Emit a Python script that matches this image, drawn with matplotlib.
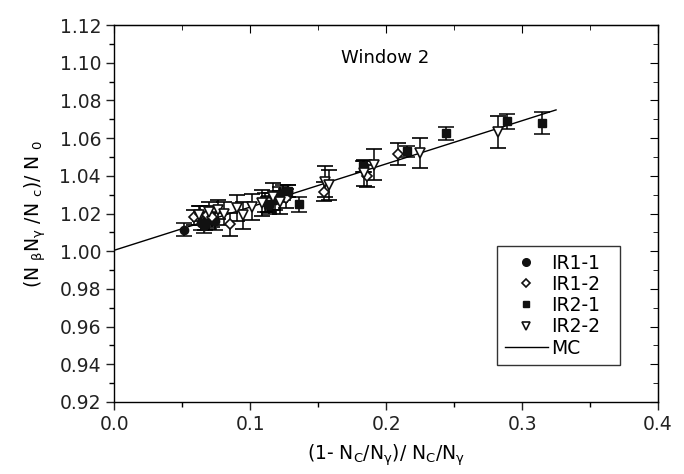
import matplotlib
matplotlib.use("Agg")
import matplotlib.pyplot as plt
from matplotlib.ticker import MultipleLocator, NullFormatter
from matplotlib.lines import Line2D

plt.rcParams['font.family'] = ['DejaVu Sans']
plt.rcParams['mathtext.fontset'] = 'dejavusans'

# ---- data ----
ir11_x = [0.051, 0.064, 0.066, 0.070, 0.074, 0.111, 0.114, 0.118, 0.124, 0.128, 0.184]
ir11_y = [1.0115, 1.0150, 1.0135, 1.0165, 1.0160, 1.0260, 1.0245, 1.0270, 1.0310, 1.0320, 1.0450]
ir11_e = [0.0035, 0.004, 0.004, 0.0045, 0.0045, 0.005, 0.005, 0.005, 0.004, 0.003, 0.003]

ir12_x = [0.059, 0.063, 0.068, 0.072, 0.085, 0.114, 0.126, 0.154, 0.186, 0.209]
ir12_y = [1.018, 1.020, 1.019, 1.018, 1.0143, 1.026, 1.028, 1.0315, 1.040, 1.0515]
ir12_e = [0.004, 0.004, 0.005, 0.005, 0.006, 0.005, 0.005, 0.005, 0.006, 0.006]

ir21_x = [0.067, 0.113, 0.122, 0.128, 0.136, 0.183, 0.215, 0.2437, 0.2887, 0.3145]
ir21_y = [1.015, 1.025, 1.030, 1.032, 1.025, 1.045, 1.053, 1.0625, 1.069, 1.068]
ir21_e = [0.004, 0.004, 0.004, 0.003, 0.004, 0.003, 0.003, 0.0035, 0.004, 0.006]

ir22_x = [0.062, 0.070, 0.076, 0.081, 0.090, 0.095, 0.101, 0.109, 0.117, 0.122,
          0.155, 0.158, 0.184, 0.191, 0.225, 0.282]
ir22_y = [1.019, 1.021, 1.022, 1.020, 1.023, 1.019, 1.0235, 1.0255, 1.029, 1.026,
          1.037, 1.035, 1.0415, 1.046, 1.052, 1.0635]
ir22_e = [0.005, 0.005, 0.005, 0.006, 0.007, 0.007, 0.007, 0.007, 0.007, 0.006,
          0.008, 0.008, 0.007, 0.008, 0.008, 0.0085]

mc_x = [0.0, 0.325]
mc_y = [1.0005, 1.075]

xticks = [0.0, 0.1, 0.2, 0.3, 0.4]
yticks = [0.92, 0.94, 0.96, 0.98, 1.00, 1.02, 1.04, 1.06, 1.08, 1.10, 1.12]

# ---- figure ----
fig = plt.figure(figsize=(6.84, 4.74), dpi=100)
ax = fig.add_axes([0.167, 0.152, 0.795, 0.795])

eb_kw = dict(ecolor='black', elinewidth=1.1, capsize=6, capthick=1.1, linestyle='none', zorder=3)
ax.errorbar(ir11_x, ir11_y, yerr=ir11_e, marker='o', ms=6, mfc='#111111', mec='#111111', **eb_kw)
ax.errorbar(ir12_x, ir12_y, yerr=ir12_e, marker='D', ms=5, mfc='white', mec='#111111', mew=1.2, **eb_kw)
ax.errorbar(ir21_x, ir21_y, yerr=ir21_e, marker='s', ms=6, mfc='#111111', mec='#111111', **eb_kw)
ax.errorbar(ir22_x, ir22_y, yerr=ir22_e, marker='v', ms=7, mfc='white', mec='#111111', mew=1.2, **eb_kw)
ax.plot(mc_x, mc_y, color='black', lw=1.0, zorder=2)

ax.set_xlim(0.0, 0.4)
ax.set_ylim(0.92, 1.12)
ax.set_xticks(xticks)
ax.set_xticklabels([f"{v:.1f}" for v in xticks])
ax.set_yticks(yticks)
ax.set_yticklabels([f"{v:.2f}" for v in yticks])
ax.xaxis.set_minor_locator(MultipleLocator(0.05))
ax.yaxis.set_minor_locator(MultipleLocator(0.01))
ax.tick_params(which='major', direction='out', length=6, width=1, labelsize=13.5, colors='#222222')
ax.tick_params(which='minor', direction='out', length=3.5, width=1)
for s in ax.spines.values():
    s.set_linewidth(1.0)

# top/right inward ticks
secx = ax.secondary_xaxis('top')
secx.set_xticks(xticks)
secx.xaxis.set_minor_locator(MultipleLocator(0.05))
secx.xaxis.set_major_formatter(NullFormatter())
secx.tick_params(which='major', direction='in', length=6)
secx.tick_params(which='minor', direction='in', length=3.5)
secy = ax.secondary_yaxis('right')
secy.set_yticks(yticks)
secy.yaxis.set_minor_locator(MultipleLocator(0.01))
secy.yaxis.set_major_formatter(NullFormatter())
secy.tick_params(which='major', direction='in', length=6)
secy.tick_params(which='minor', direction='in', length=3.5)

ax.set_xlabel(r"(1- N$_\mathrm{C}$/N$_\mathrm{γ}$)/ N$_\mathrm{C}$/N$_\mathrm{γ}$", fontsize=13.5, labelpad=6)
ax.set_ylabel(r"(N $_\mathrm{β}$N$_\mathrm{γ}$ /N $_\mathrm{c}$)/ N $_\mathrm{0}$", fontsize=13.5, labelpad=8)

ax.text(0.199, 1.1025, "Window 2", fontsize=13, ha='center', va='center')

handles = [
    Line2D([], [], marker='o', ms=5.5, color='#111111', ls='none'),
    Line2D([], [], marker='D', ms=4.5, mfc='white', mec='#111111', mew=1.2, ls='none'),
    Line2D([], [], marker='s', ms=4.5, color='#111111', ls='none'),
    Line2D([], [], marker='v', ms=6, mfc='white', mec='#111111', mew=1.2, ls='none'),
    Line2D([], [], color='black', lw=1.0),
]
labels = ["IR1-1", "IR1-2", "IR2-1", "IR2-2", "MC"]
leg = ax.legend(handles, labels, loc='lower left', bbox_to_anchor=(0.704, 0.098, 0.226, 0.318),
                mode='expand', fontsize=13.5, frameon=True, fancybox=False, edgecolor='black',
                handlelength=2.3, handletextpad=0.2, labelspacing=0.12, borderpad=0.4,
                borderaxespad=0.0)
leg.get_frame().set_linewidth(1.0)

fig.savefig("out.png", dpi=100)
